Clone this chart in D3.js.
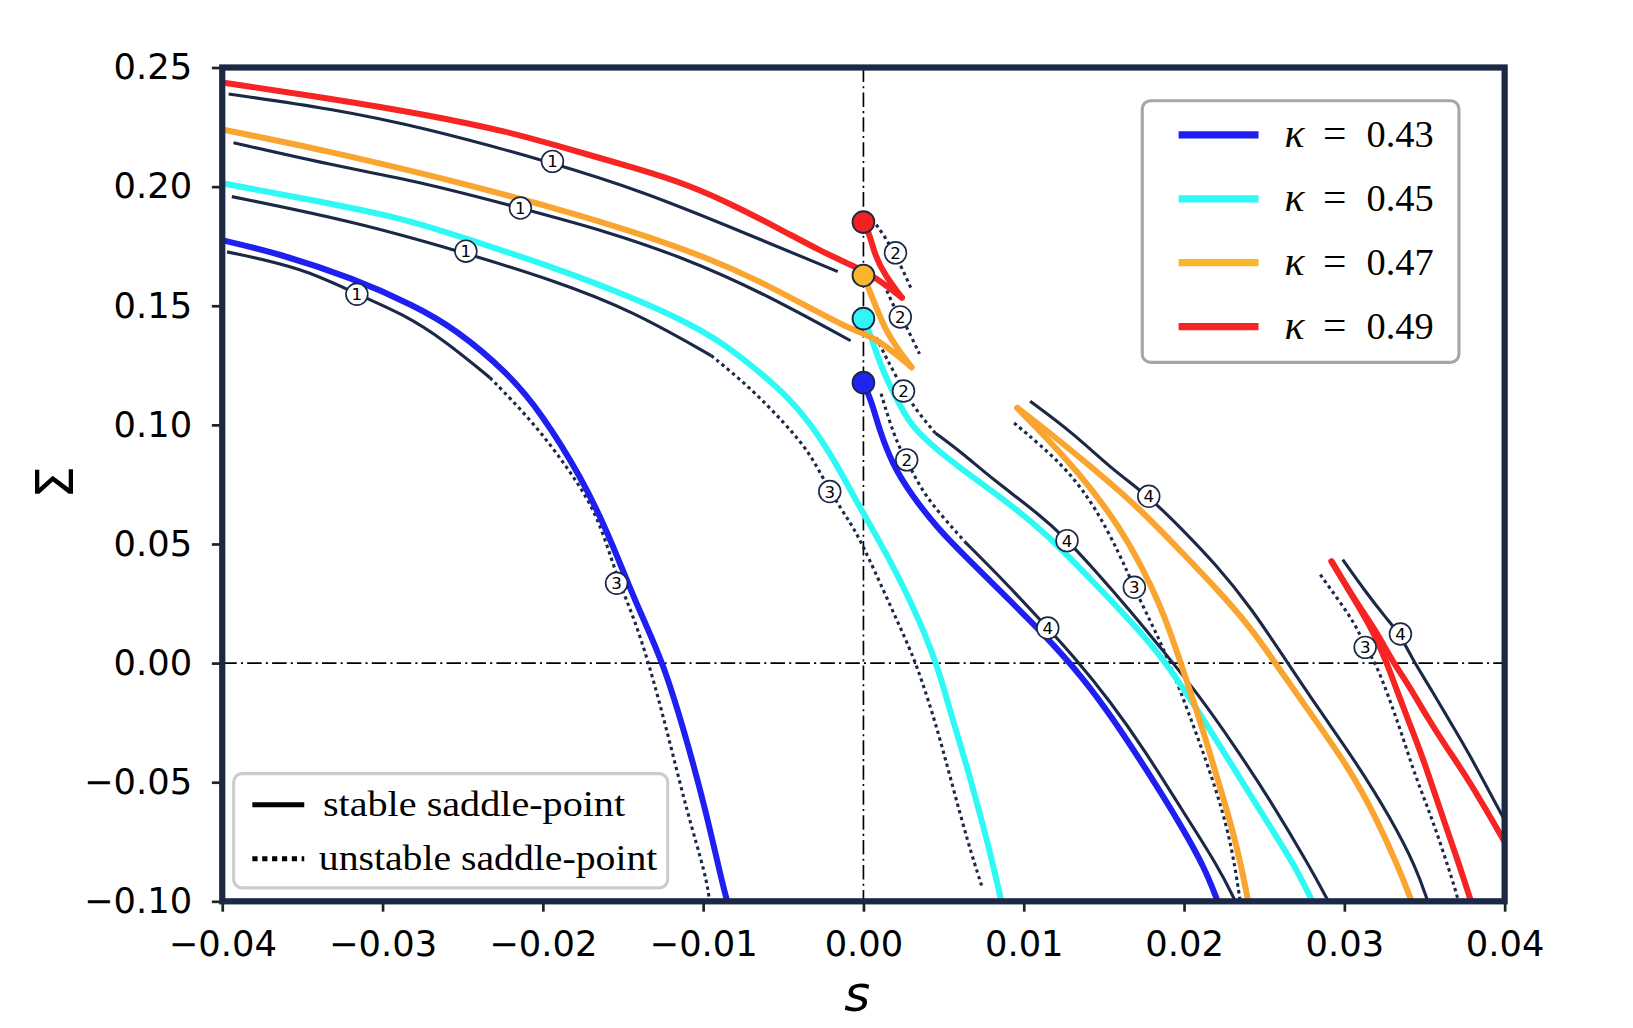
<!DOCTYPE html>
<html>
<head>
<meta charset="utf-8">
<script src="https://cdn.jsdelivr.net/npm/d3@7"></script>
<style>
  body { margin: 0; background: #fff; }
  svg { display: block; }
</style>
</head>
<body>
<div id="chart"></div>
<script>
// kappa values of the four families and their colours
var kappas = ["0.43", "0.45", "0.47", "0.49"];
var colors = ["#1f1ff2", "#2ff9f5", "#f9a530", "#f72424"];
var dotColors = ["#1f24f0", "#33f5f5", "#fbb52b", "#f22222"];

// tick values
var xTicks = [-0.04, -0.03, -0.02, -0.01, 0.00, 0.01, 0.02, 0.03, 0.04];
var yTicks = [-0.10, -0.05, 0.00, 0.05, 0.10, 0.15, 0.20, 0.25];

// kappa = 0.43 : [s, Sigma]
var blueA = [[-0.0400,0.1775],[-0.0366,0.1722],[-0.0318,0.1615],[-0.0280,0.1500],[-0.0255,0.1405],[-0.0222,0.1220],[-0.0201,0.1050],[-0.0176,0.0780],[-0.0160,0.0555],[-0.0146,0.0320],[-0.0137,0.0180],[-0.0125,0.0000],[-0.0112,-0.0280],[-0.0099,-0.0600],[-0.0089,-0.0897],[-0.0085,-0.1000]];
var blueB = [[0.0000,0.1177],[0.0005,0.1100],[0.0010,0.0978],[0.0018,0.0835],[0.0030,0.0705],[0.0047,0.0560],[0.0064,0.0445],[0.0086,0.0298],[0.0115,0.0105],[0.0137,-0.0063],[0.0154,-0.0217],[0.0176,-0.0441],[0.0198,-0.0679],[0.0213,-0.0861],[0.0221,-0.1000]];
var blueStable1 = [[-0.0397,0.1726],[-0.0350,0.1659],[-0.0316,0.1548],[-0.0287,0.1465],[-0.0261,0.1353],[-0.0233,0.1198]];
var blueUnstable3 = [[-0.0233,0.1198],[-0.0207,0.1019],[-0.0185,0.0825],[-0.0166,0.0630],[-0.0154,0.0363],[-0.0144,0.0205],[-0.0134,0.0004],[-0.0122,-0.0297],[-0.0110,-0.0627],[-0.0098,-0.0897],[-0.0096,-0.1000]];
var blueUnstable2 = [[0.0011,0.1131],[0.0016,0.1019],[0.0022,0.0908],[0.0027,0.0853],[0.0036,0.0727],[0.0049,0.0616],[0.0063,0.0512]];
var blueStable4 = [[0.0063,0.0511],[0.0088,0.0343],[0.0115,0.0147],[0.0132,0.0021],[0.0154,-0.0161],[0.0176,-0.0371],[0.0198,-0.0609],[0.0222,-0.0861],[0.0232,-0.1000]];

// kappa = 0.45
var cyanA = [[-0.0400,0.2014],[-0.0350,0.1951],[-0.0287,0.1868],[-0.0249,0.1784],[-0.0192,0.1659],[-0.0144,0.1534],[-0.0112,0.1437],[-0.0090,0.1353],[-0.0071,0.1256],[-0.0049,0.1131],[-0.0033,0.1006],[-0.0017,0.0839],[-0.0005,0.0686],[0.0000,0.0630],[0.0014,0.0463],[0.0030,0.0255],[0.0046,0.0000],[0.0055,-0.0225],[0.0064,-0.0420],[0.0072,-0.0617],[0.0080,-0.0820],[0.0086,-0.1000]];
var cyanB = [[0.0000,0.1446],[0.0005,0.1367],[0.0011,0.1242],[0.0021,0.1103],[0.0030,0.0992],[0.0045,0.0900],[0.0064,0.0800],[0.0087,0.0690],[0.0115,0.0539],[0.0143,0.0343],[0.0165,0.0189],[0.0185,0.0035],[0.0198,-0.0091],[0.0213,-0.0245],[0.0231,-0.0441],[0.0253,-0.0679],[0.0270,-0.0861],[0.0280,-0.1000]];
var cyanStable1 = [[-0.0394,0.1958],[-0.0318,0.1854],[-0.0252,0.1729],[-0.0192,0.1604],[-0.0144,0.1478],[-0.0095,0.1291]];
var cyanUnstable3 = [[-0.0095,0.1291],[-0.0071,0.1159],[-0.0049,0.1006],[-0.0033,0.0880],[-0.0021,0.0720],[-0.0008,0.0588],[0.0000,0.0491],[0.0014,0.0282],[0.0030,0.0046],[0.0036,-0.0065],[0.0045,-0.0250],[0.0055,-0.0500],[0.0065,-0.0750],[0.0074,-0.0940]];
var cyanUnstable2 = [[0.0008,0.1367],[0.0014,0.1284],[0.0025,0.1145],[0.0033,0.1061],[0.0045,0.0964]];
var cyanStable4 = [[0.0045,0.0965],[0.0062,0.0880],[0.0080,0.0775],[0.0110,0.0623],[0.0127,0.0518],[0.0145,0.0385],[0.0165,0.0231],[0.0189,0.0035],[0.0209,-0.0133],[0.0231,-0.0343],[0.0253,-0.0567],[0.0279,-0.0861],[0.0290,-0.1000]];

// kappa = 0.47
var orangeA = [[-0.0400,0.2240],[-0.0331,0.2145],[-0.0275,0.2054],[-0.0255,0.2021],[-0.0192,0.1910],[-0.0144,0.1812],[-0.0097,0.1701],[-0.0065,0.1604],[-0.0033,0.1490],[-0.0008,0.1400],[0.0008,0.1367],[0.0030,0.1242]];
var orangeB = [[0.0000,0.1627],[0.0003,0.1576],[0.0008,0.1492],[0.0014,0.1395],[0.0022,0.1312],[0.0030,0.1242]];
var orangeC1 = [[0.0096,0.1071],[0.0110,0.0973],[0.0124,0.0875],[0.0142,0.0735],[0.0160,0.0567],[0.0173,0.0413],[0.0184,0.0259],[0.0192,0.0119],[0.0199,-0.0021],[0.0206,-0.0161],[0.0214,-0.0329],[0.0222,-0.0511],[0.0230,-0.0693],[0.0236,-0.0861],[0.0240,-0.1000]];
var orangeC2 = [[0.0096,0.1071],[0.0115,0.0973],[0.0143,0.0819],[0.0172,0.0651],[0.0198,0.0469],[0.0220,0.0315],[0.0242,0.0147],[0.0259,-0.0021],[0.0281,-0.0231],[0.0303,-0.0441],[0.0320,-0.0651],[0.0334,-0.0861],[0.0342,-0.1000]];
var orangeStable1 = [[-0.0393,0.2184],[-0.0331,0.2089],[-0.0277,0.2021],[-0.0214,0.1910],[-0.0160,0.1812],[-0.0112,0.1701],[-0.0065,0.1562],[-0.0008,0.1353]];
var orangeUnstable2 = [[0.0013,0.1590],[0.0019,0.1492],[0.0024,0.1450],[0.0029,0.1381],[0.0035,0.1298]];
var orangeUnstable3 = [[0.0094,0.1008],[0.0110,0.0917],[0.0128,0.0805],[0.0145,0.0651],[0.0160,0.0455],[0.0169,0.0315],[0.0179,0.0175],[0.0188,0.0049],[0.0197,-0.0105],[0.0208,-0.0301],[0.0219,-0.0511],[0.0227,-0.0693],[0.0232,-0.0861],[0.0235,-0.1000]];
var orangeStable4 = [[0.0104,0.1099],[0.0132,0.0959],[0.0154,0.0819],[0.0178,0.0700],[0.0198,0.0567],[0.0220,0.0413],[0.0242,0.0231],[0.0264,0.0007],[0.0285,-0.0203],[0.0307,-0.0413],[0.0329,-0.0651],[0.0345,-0.0861],[0.0352,-0.1000]];

// kappa = 0.49
var redA = [[-0.0400,0.2437],[-0.0331,0.2368],[-0.0275,0.2305],[-0.0220,0.2228],[-0.0192,0.2173],[-0.0137,0.2068],[-0.0109,0.2006],[-0.0081,0.1922],[-0.0053,0.1825],[-0.0026,0.1727],[-0.0008,0.1673],[0.0008,0.1618],[0.0024,0.1534]];
var redB = [[0.0000,0.1851],[0.0004,0.1798],[0.0007,0.1715],[0.0013,0.1632],[0.0024,0.1534]];
var redC1 = [[0.0292,0.0427],[0.0307,0.0259],[0.0320,0.0133],[0.0330,0.0007],[0.0340,-0.0091],[0.0352,-0.0231],[0.0364,-0.0357],[0.0377,-0.0483],[0.0400,-0.0750]];
var redC2 = [[0.0292,0.0427],[0.0307,0.0259],[0.0318,0.0133],[0.0326,0.0010],[0.0333,-0.0119],[0.0341,-0.0259],[0.0349,-0.0399],[0.0356,-0.0539],[0.0363,-0.0679],[0.0371,-0.0833],[0.0379,-0.1000]];
var redStable1 = [[-0.0396,0.2389],[-0.0331,0.2326],[-0.0275,0.2249],[-0.0195,0.2103],[-0.0137,0.1978],[-0.0081,0.1825],[-0.0016,0.1643]];
var redUnstable2 = [[0.0008,0.1840],[0.0014,0.1784],[0.0019,0.1722],[0.0024,0.1659],[0.0030,0.1568]];
var redUnstable3 = [[0.0285,0.0371],[0.0297,0.0259],[0.0307,0.0161],[0.0313,0.0070],[0.0320,-0.0007],[0.0328,-0.0147],[0.0336,-0.0301],[0.0344,-0.0469],[0.0353,-0.0623],[0.0361,-0.0777],[0.0369,-0.0945],[0.0371,-0.0995]];
var redStable4 = [[0.0299,0.0434],[0.0313,0.0301],[0.0326,0.0189],[0.0335,0.0119],[0.0342,0.0021],[0.0355,-0.0119],[0.0367,-0.0259],[0.0376,-0.0357],[0.0400,-0.0660]];

// starting points on s = 0
var startSigma = [0.1177, 0.1446, 0.1627, 0.1851];

// circled branch labels [s, Sigma, number]
var branchLabels = [
  [-0.0316,0.1548,"1"], [-0.0248,0.1729,"1"], [-0.0214,0.1910,"1"], [-0.0194,0.2106,"1"],
  [0.0020,0.1722,"2"], [0.0023,0.1453,"2"], [0.0025,0.1142,"2"], [0.0027,0.0853,"2"],
  [-0.0154,0.0335,"3"], [-0.0021,0.0720,"3"], [0.0169,0.0318,"3"], [0.0313,0.0066,"3"],
  [0.0115,0.0147,"4"], [0.0127,0.0514,"4"], [0.0178,0.0700,"4"], [0.0335,0.0122,"4"]
];

var ink = "#1b2947";

// curves grouped for drawing
var colored = [
  [blueA, 0], [blueB, 0], [cyanA, 1], [cyanB, 1],
  [orangeA, 2], [orangeB, 2], [orangeC1, 2], [orangeC2, 2],
  [redA, 3], [redB, 3], [redC1, 3], [redC2, 3]
];
var saddles = [
  [blueStable1, false], [blueUnstable3, true], [blueUnstable2, true], [blueStable4, false],
  [cyanStable1, false], [cyanUnstable3, true], [cyanUnstable2, true], [cyanStable4, false],
  [orangeStable1, false], [orangeUnstable2, true], [orangeUnstable3, true], [orangeStable4, false],
  [redStable1, false], [redUnstable2, true], [redUnstable3, true], [redStable4, false]
];

var W = 1572.6, H = 990;
var svg = d3.select("#chart").append("svg")
    .attr("width", 1633)
    .attr("height", 1028)
    .attr("viewBox", "0 0 " + W + " " + H);

var x = d3.scaleLinear().domain([-0.04, 0.04]).range([214, 1449]);
var y = d3.scaleLinear().domain([-0.10, 0.25]).range([868, 65]);

svg.append("defs").append("clipPath").attr("id", "plotclip")
    .append("rect")
    .attr("x", x(-0.04)).attr("y", y(0.25))
    .attr("width", x(0.04) - x(-0.04)).attr("height", y(-0.10) - y(0.25));

var plot = svg.append("g").attr("clip-path", "url(#plotclip)");

// dash-dot reference lines
plot.append("line")
    .attr("x1", x(0)).attr("x2", x(0)).attr("y1", y(0.25)).attr("y2", y(-0.10))
    .attr("stroke", "#000").attr("stroke-width", 1.6).attr("stroke-dasharray", "14,4,2,4");
plot.append("line")
    .attr("x1", x(-0.04)).attr("x2", x(0.04)).attr("y1", y(0)).attr("y2", y(0))
    .attr("stroke", "#000").attr("stroke-width", 1.6).attr("stroke-dasharray", "14,4,2,4");

// smooth curve through the read-off points
var line = d3.line()
    .x(function (d) { return x(d[0]); })
    .y(function (d) { return y(d[1]); })
    .curve(d3.curveBasis);

// saddle-point curves
plot.selectAll("path.saddle")
    .data(saddles)
    .enter().append("path")
    .attr("class", "saddle")
    .attr("d", function (d) { return line(d[0]); })
    .attr("fill", "none")
    .attr("stroke", ink)
    .attr("stroke-width", 3)
    .attr("stroke-dasharray", function (d) { return d[1] ? "3.2,3.4" : null; });

// coloured curves
plot.selectAll("path.kappa")
    .data(colored)
    .enter().append("path")
    .attr("class", "kappa")
    .attr("d", function (d) { return line(d[0]); })
    .attr("fill", "none")
    .attr("stroke", function (d) { return colors[d[1]]; })
    .attr("stroke-width", 5.8)
    .attr("stroke-linecap", "round")
    .attr("stroke-linejoin", "round");

// circled labels
var lab = plot.selectAll("g.blabel")
    .data(branchLabels)
    .enter().append("g")
    .attr("class", "blabel")
    .attr("transform", function (d) { return "translate(" + x(d[0]) + "," + y(d[1]) + ")"; });
lab.append("circle").attr("r", 10.5).attr("fill", "#fff").attr("stroke", ink).attr("stroke-width", 1.6);
lab.append("text")
    .attr("text-anchor", "middle").attr("dy", "0.36em")
    .style("font-family", "DejaVu Sans").style("font-size", "16px")
    .attr("fill", "#000")
    .text(function (d) { return d[2]; });

// start points
plot.selectAll("circle.start")
    .data(startSigma)
    .enter().append("circle")
    .attr("class", "start")
    .attr("cx", x(0))
    .attr("cy", function (d) { return y(d); })
    .attr("r", 10.5)
    .attr("fill", function (d, i) { return dotColors[i]; })
    .attr("stroke", ink)
    .attr("stroke-width", 1.8);

// axes
var fmt = d3.format(".2f");
var yAxis = svg.append("g")
    .attr("transform", "translate(" + x(-0.04) + ",0)")
    .call(d3.axisLeft(y).tickValues(yTicks).tickFormat(fmt).tickSize(10).tickPadding(19));
var xAxis = svg.append("g")
    .attr("transform", "translate(0," + y(-0.10) + ")")
    .call(d3.axisBottom(x).tickValues(xTicks).tickFormat(fmt).tickSize(10).tickPadding(19));
[xAxis, yAxis].forEach(function (a) {
    a.select(".domain").remove();
    a.selectAll(".tick line").attr("stroke", "#222").attr("stroke-width", 2.6);
    a.selectAll(".tick text")
        .attr("fill", "#000")
        .style("font-family", "DejaVu Sans")
        .style("font-size", "34px");
});

// frame
svg.append("rect")
    .attr("x", x(-0.04)).attr("y", y(0.25))
    .attr("width", x(0.04) - x(-0.04)).attr("height", y(-0.10) - y(0.25))
    .attr("fill", "none").attr("stroke", ink).attr("stroke-width", 6);

// axis labels
svg.append("text")
    .attr("x", (x(-0.04) + x(0.04)) / 2 - 6).attr("y", 974)
    .attr("text-anchor", "middle")
    .style("font-family", "DejaVu Sans").style("font-style", "italic").style("font-size", "48px")
    .text("s");
svg.append("text")
    .attr("transform", "translate(70," + ((y(0.25) + y(-0.10)) / 2 - 2) + ") rotate(-90)")
    .attr("text-anchor", "middle")
    .style("font-family", "DejaVu Sans").style("font-size", "50px")
    .text("Σ");

// kappa legend
var leg = svg.append("g");
leg.append("rect")
    .attr("x", 1100).attr("y", 97).attr("width", 305).attr("height", 252)
    .attr("rx", 8).attr("fill", "#fff").attr("fill-opacity", 0.9)
    .attr("stroke", "#a6a6a6").attr("stroke-width", 3);
kappas.forEach(function (k, i) {
    var ly = 130 + i * 61.5;
    leg.append("line")
        .attr("x1", 1135).attr("x2", 1212).attr("y1", ly).attr("y2", ly)
        .attr("stroke", i === 2 ? "#fbb52b" : colors[i]).attr("stroke-width", 7);
    var t = leg.append("text").attr("y", ly + 12)
        .style("font-family", "Liberation Serif").style("font-size", "37px").attr("fill", "#000");
    t.append("tspan").attr("x", 1237).style("font-style", "italic").style("font-size", "40px").text("κ");
    t.append("tspan").attr("x", 1274).style("font-size", "40px").text("=");
    t.append("tspan").attr("x", 1316).text(k);
});

// saddle-point legend
var leg2 = svg.append("g");
leg2.append("rect")
    .attr("x", 225).attr("y", 745).attr("width", 418).attr("height", 110)
    .attr("rx", 8).attr("fill", "#fff").attr("fill-opacity", 0.9)
    .attr("stroke", "#cccccc").attr("stroke-width", 3);
leg2.append("line")
    .attr("x1", 243).attr("x2", 293).attr("y1", 775).attr("y2", 775)
    .attr("stroke", "#000").attr("stroke-width", 5);
leg2.append("line")
    .attr("x1", 243).attr("x2", 293).attr("y1", 827).attr("y2", 827)
    .attr("stroke", "#000").attr("stroke-width", 5).attr("stroke-dasharray", "5,4.5");
leg2.append("text")
    .attr("x", 311).attr("y", 786)
    .attr("textLength", 291).attr("lengthAdjust", "spacingAndGlyphs")
    .style("font-family", "Liberation Serif").style("font-size", "35px")
    .text("stable saddle-point");
leg2.append("text")
    .attr("x", 307).attr("y", 838)
    .attr("textLength", 326).attr("lengthAdjust", "spacingAndGlyphs")
    .style("font-family", "Liberation Serif").style("font-size", "35px")
    .text("unstable saddle-point");
</script>
</body>
</html>
